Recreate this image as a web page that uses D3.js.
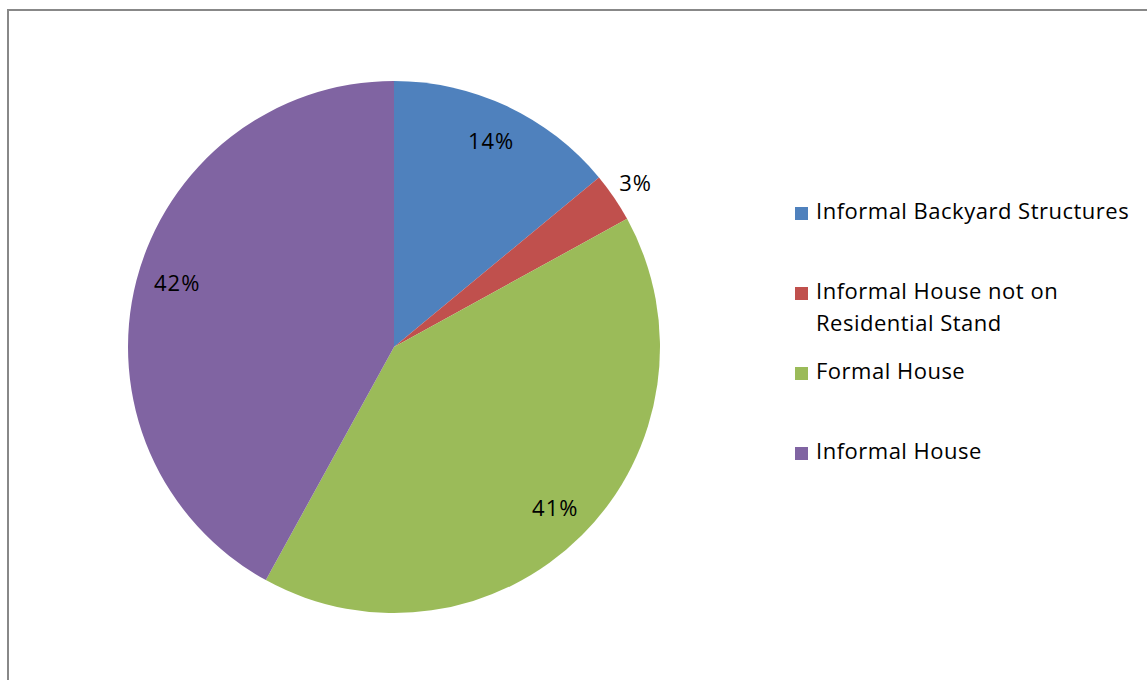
<!DOCTYPE html>
<meta charset="utf-8">
<style>
  body { margin: 0; background: #fff; }
  text { font-family: "Open Sans", "Noto Sans", sans-serif; fill: #000; }
  .frame { fill: none; stroke: #888; stroke-width: 2px; }
</style>

<svg width="1147" height="680"></svg>
<script src="https://cdn.jsdelivr.net/npm/d3@7/dist/d3.min.js"></script>

<script>
const svg = d3.select("svg"),
  width = +svg.attr("width"),
  height = +svg.attr("height");

const categories = [
  "Informal Backyard Structures",
  "Informal House not on Residential Stand",
  "Formal House",
  "Informal House"
];
const values = [14, 3, 41, 42];
const colors = ["#4F81BD", "#C0504D", "#9BBB59", "#8064A2"];

// legend text wraps like the original
const legendLines = [
  ["Informal Backyard Structures"],
  ["Informal House not on", "Residential Stand"],
  ["Formal House"],
  ["Informal House"]
];

const cx = 394, cy = 347, radius = 266;

// chart frame (only top and left edges are visible in the crop)
svg.append("rect")
  .attr("class", "frame")
  .attr("x", 8)
  .attr("y", 10)
  .attr("width", width + 20)
  .attr("height", height + 20);

const pieData = d3.pie().sort(null)(values);

const arc = d3.arc().innerRadius(0).outerRadius(radius);
const labelArc = d3.arc().innerRadius(228).outerRadius(228);
const outerLabelArc = d3.arc().innerRadius(292).outerRadius(292);

const g = svg.append("g").attr("transform", `translate(${cx},${cy})`);

g.selectAll("path")
  .data(pieData)
  .enter().append("path")
    .attr("d", arc)
    .attr("fill", (d, i) => colors[i]);

// excel nudges the big left label a little upward
function labelPos(d) {
  if (d.value < 5) return outerLabelArc.centroid(d);
  const mid = (d.startAngle + d.endAngle) / 2 + (d.index === 3 ? 0.035 : 0);
  const r = d.index === 3 ? 226 : 228;
  return [Math.sin(mid) * r, -Math.cos(mid) * r];
}

g.selectAll("text.label")
  .data(pieData)
  .enter().append("text")
    .attr("class", "label")
    .attr("transform", d => `translate(${labelPos(d)})`)
    .attr("text-anchor", "middle")
    .attr("dominant-baseline", "central")
    .attr("dy", -1)
    .attr("font-size", 22)
    .attr("letter-spacing", 1)
    .text(d => d.value + "%");

// legend
const legendY = [211, 291, 371, 451];

const legend = svg.append("g")
  .selectAll("g")
  .data(categories)
  .enter().append("g")
    .attr("transform", (d, i) => `translate(795,${legendY[i]})`);

legend.append("rect")
  .attr("x", 0)
  .attr("y", -4)
  .attr("width", 13)
  .attr("height", 13)
  .attr("fill", (d, i) => colors[i]);

legend.append("text")
  .attr("x", 21)
  .attr("y", -1)
  .attr("font-size", 22)
  .attr("letter-spacing", 0.5)
  .attr("dominant-baseline", "central")
  .selectAll("tspan")
  .data((d, i) => legendLines[i])
  .enter().append("tspan")
    .attr("x", 21)
    .attr("dy", (d, j) => j === 0 ? 0 : 32)
    .text(d => d);
</script>
